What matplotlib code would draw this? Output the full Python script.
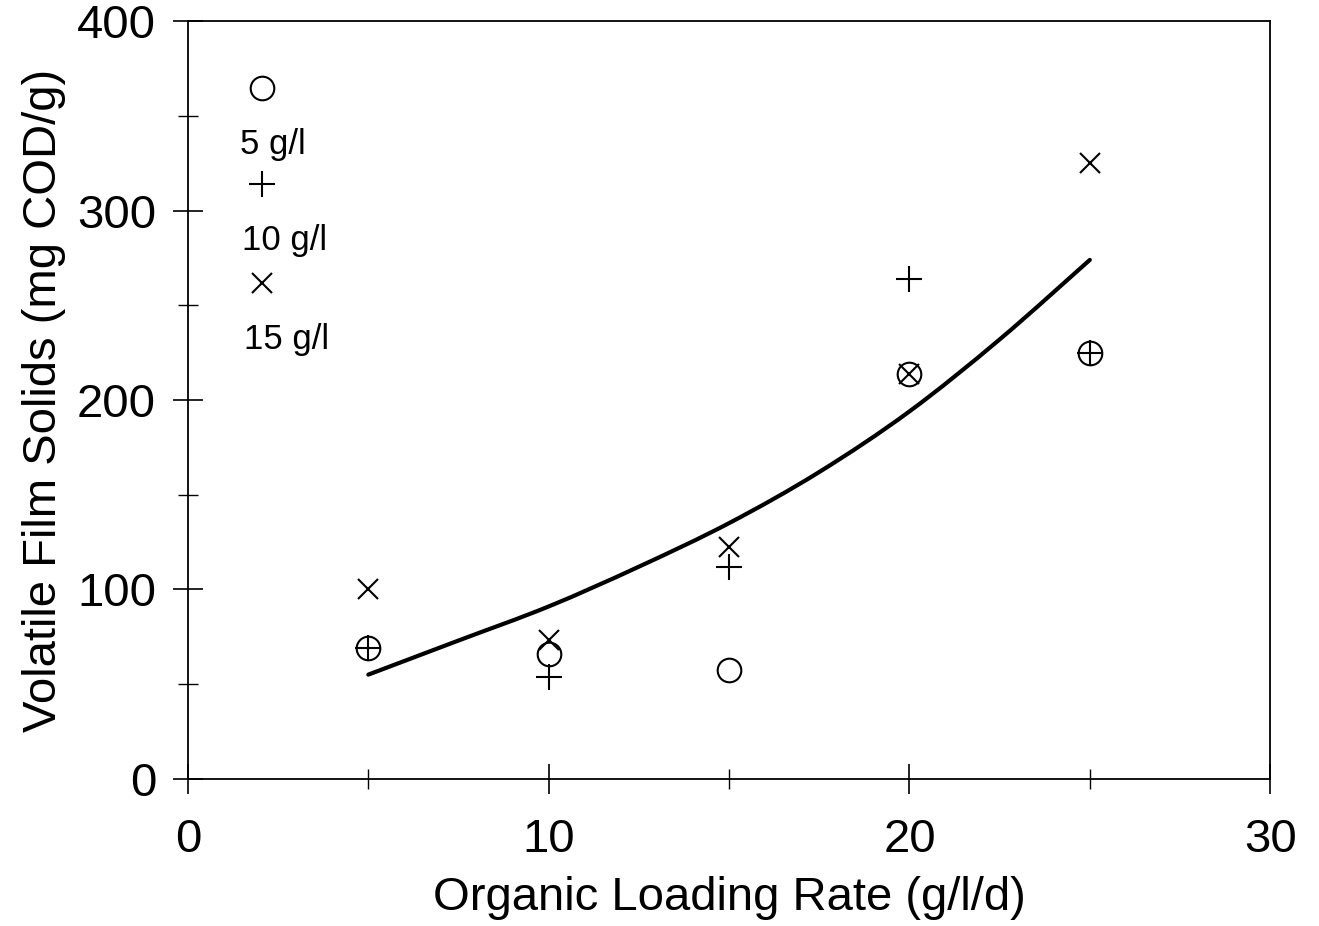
import matplotlib.pyplot as plt
from matplotlib.ticker import MultipleLocator
from matplotlib.path import Path
from matplotlib.patches import PathPatch

plt.rcParams['font.family'] = ['Liberation Sans', 'DejaVu Sans']

# loading rates (g/l/d)
olr = [5, 10, 15, 20, 25]

# volatile film solids (mg COD/g) for each feed strength
vfs_5 = [69, 66, 57.5, 214, 225]
vfs_10 = [69, 54, 112, 264, 225]
vfs_15 = [100, 73.5, 122.5, 214, 325]

# fitted curve
fit_x = [5, 7.5, 10, 12.5, 15, 17.5, 20, 22.5, 25]
fit_y = [55, 73, 91, 112, 135, 162, 194, 232, 274]

# in-plot key
key_x = 2.05
key_y = [365, 314, 262]
key_labels = ["5 g/l", "10 g/l", "15 g/l"]
key_label_y = [335, 284, 232]
key_label_x = [1.45, 1.5, 1.55]


def smooth_path(xs, ys):
    # catmull-rom through the read points, drawn as bezier segments
    verts = [(xs[0], ys[0])]
    codes = [Path.MOVETO]
    n = len(xs)
    for i in range(n - 1):
        x0, y0 = (xs[i - 1], ys[i - 1]) if i > 0 else (xs[i], ys[i])
        x1, y1 = xs[i], ys[i]
        x2, y2 = xs[i + 1], ys[i + 1]
        x3, y3 = (xs[i + 2], ys[i + 2]) if i + 2 < n else (x2, y2)
        c1 = (x1 + (x2 - x0) / 6, y1 + (y2 - y0) / 6)
        c2 = (x2 - (x3 - x1) / 6, y2 - (y3 - y1) / 6)
        verts += [c1, c2, (x2, y2)]
        codes += [Path.CURVE4] * 3
    return Path(verts, codes)


fig = plt.figure(figsize=(13.19, 9.26), dpi=100)
ax = fig.add_axes([0.1425, 0.159, 0.8205, 0.818])

mk = dict(linestyle='none', color='black', markeredgewidth=1.5)
ax.plot(olr, vfs_5, marker='o', markersize=17, markerfacecolor='none', **mk)
ax.plot(olr, vfs_10, marker='+', markersize=19, **mk)
ax.plot(olr, vfs_15, marker='x', markersize=15, **mk)
ax.add_patch(PathPatch(smooth_path(fit_x, fit_y), facecolor='none',
                       edgecolor='black', linewidth=3, capstyle='round'))

ax.plot([key_x], [key_y[0]], marker='o', markersize=17, markerfacecolor='none', **mk)
ax.plot([key_x], [key_y[1]], marker='+', markersize=19, **mk)
ax.plot([key_x], [key_y[2]], marker='x', markersize=15, **mk)
for lab, xx, yy in zip(key_labels, key_label_x, key_label_y):
    ax.text(xx, yy, lab, fontsize=25, va='center', ha='left')

ax.set_xlim(0, 30)
ax.set_ylim(0, 400)
ax.xaxis.set_major_locator(MultipleLocator(10))
ax.xaxis.set_minor_locator(MultipleLocator(5))
ax.yaxis.set_major_locator(MultipleLocator(100))
ax.yaxis.set_minor_locator(MultipleLocator(50))
ax.tick_params(which='major', direction='inout', length=22, width=1.2, labelsize=34, pad=12)
ax.tick_params(which='minor', direction='inout', length=14, width=1.0)
ax.tick_params(axis='x', which='major', pad=17)
for s in ax.spines.values():
    s.set_linewidth(1.3)

ax.set_xlabel("Organic Loading Rate (g/l/d)", fontsize=34, labelpad=10)
ax.set_ylabel("Volatile Film Solids (mg COD/g)", fontsize=34, labelpad=8)

fig.savefig("out.png", dpi=100)
